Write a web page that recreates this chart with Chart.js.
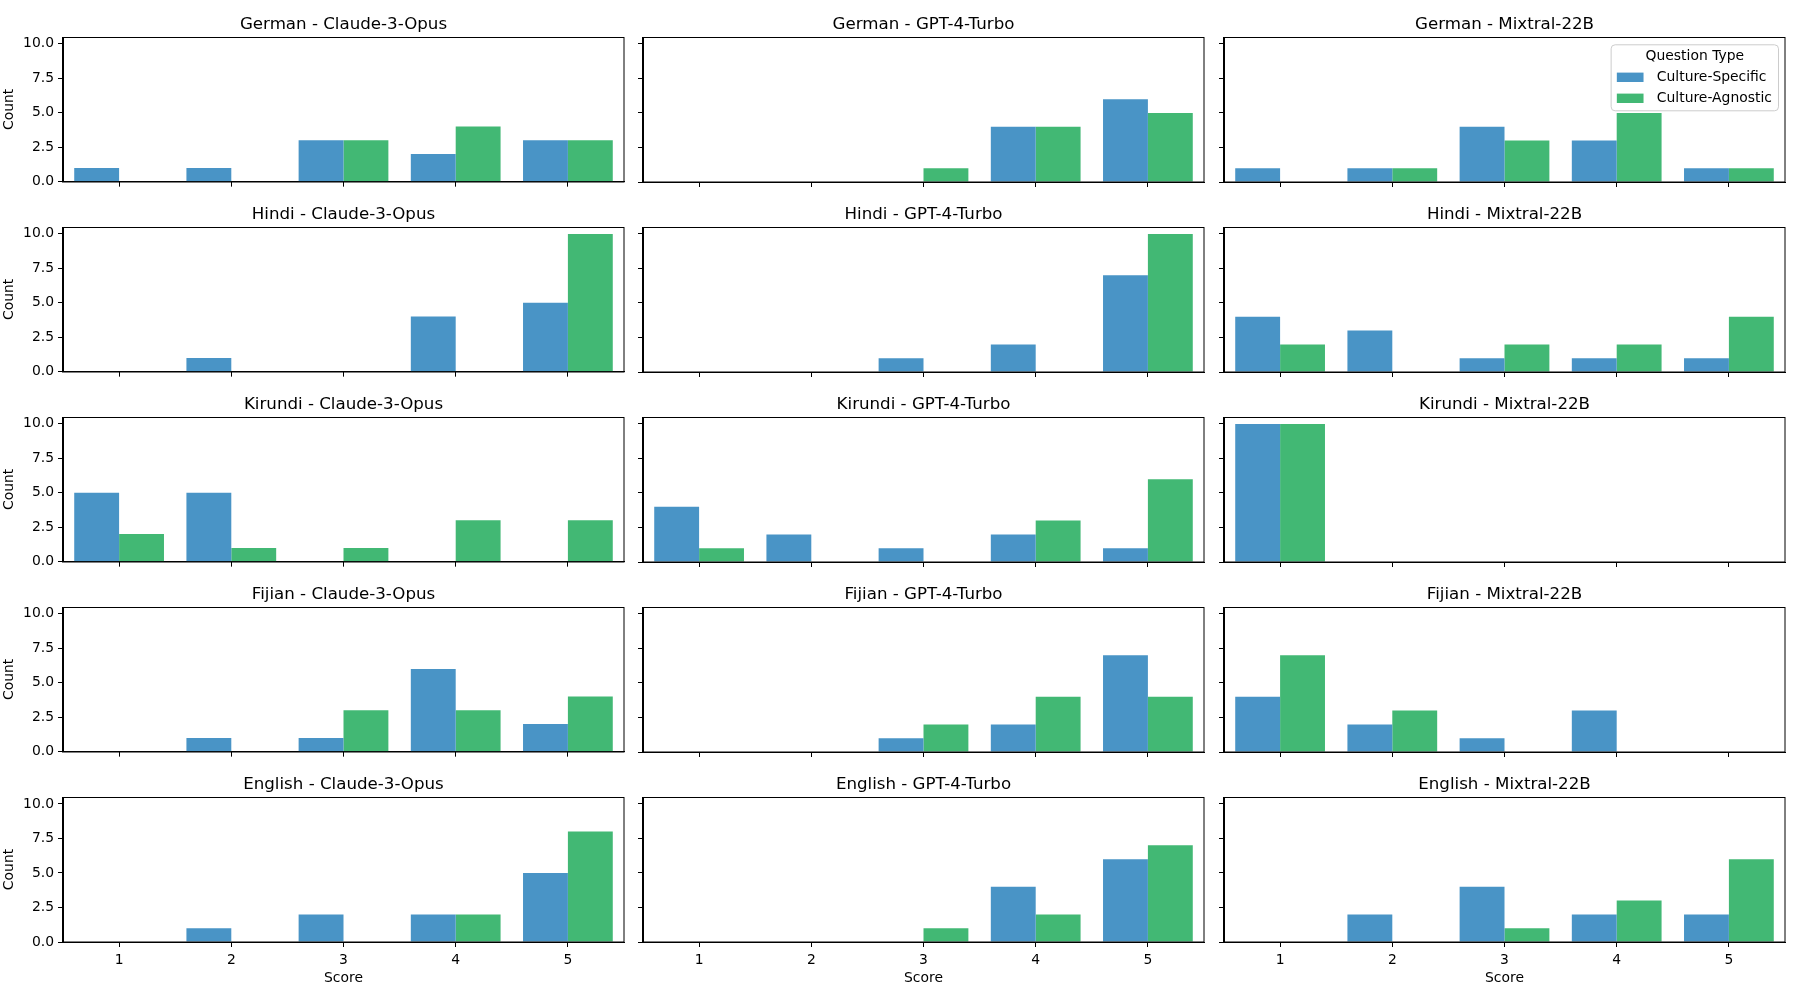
<!DOCTYPE html>
<html>
<head>
<meta charset="utf-8">
<title>Score distributions</title>
<script src="https://cdn.jsdelivr.net/npm/chart.js@4.4.1/dist/chart.umd.min.js"></script>
<style>
html, body { margin: 0; padding: 0; background: #ffffff; }
#wrap { position: relative; width: 1800px; height: 1000px; overflow: hidden; background: #ffffff; }
#wrap canvas { position: absolute; }
</style>
</head>
<body>
<div id="wrap"></div>
<script>
// ---------------- data ----------------
const scores = ['1', '2', '3', '4', '5'];
const languages = ['German', 'Hindi', 'Kirundi', 'Fijian', 'English'];
const models = ['Claude-3-Opus', 'GPT-4-Turbo', 'Mixtral-22B'];
const seriesNames = ['Culture-Specific', 'Culture-Agnostic'];
const legendTitle = 'Question Type';
const yTicks = [0, 2.5, 5, 7.5, 10];
const xAxisLabel = 'Score';
const yAxisLabel = 'Count';

const germanClaudeSpecific   = [1, 1, 3, 2, 3];
const germanClaudeAgnostic   = [0, 0, 3, 4, 3];
const germanGptSpecific      = [0, 0, 0, 4, 6];
const germanGptAgnostic      = [0, 0, 1, 4, 5];
const germanMixtralSpecific  = [1, 1, 4, 3, 1];
const germanMixtralAgnostic  = [0, 1, 3, 5, 1];

const hindiClaudeSpecific    = [0, 1, 0, 4, 5];
const hindiClaudeAgnostic    = [0, 0, 0, 0, 10];
const hindiGptSpecific       = [0, 0, 1, 2, 7];
const hindiGptAgnostic       = [0, 0, 0, 0, 10];
const hindiMixtralSpecific   = [4, 3, 1, 1, 1];
const hindiMixtralAgnostic   = [2, 0, 2, 2, 4];

const kirundiClaudeSpecific  = [5, 5, 0, 0, 0];
const kirundiClaudeAgnostic  = [2, 1, 1, 3, 3];
const kirundiGptSpecific     = [4, 2, 1, 2, 1];
const kirundiGptAgnostic     = [1, 0, 0, 3, 6];
const kirundiMixtralSpecific = [10, 0, 0, 0, 0];
const kirundiMixtralAgnostic = [10, 0, 0, 0, 0];

const fijianClaudeSpecific   = [0, 1, 1, 6, 2];
const fijianClaudeAgnostic   = [0, 0, 3, 3, 4];
const fijianGptSpecific      = [0, 0, 1, 2, 7];
const fijianGptAgnostic      = [0, 0, 2, 4, 4];
const fijianMixtralSpecific  = [4, 2, 1, 3, 0];
const fijianMixtralAgnostic  = [7, 3, 0, 0, 0];

const englishClaudeSpecific  = [0, 1, 2, 2, 5];
const englishClaudeAgnostic  = [0, 0, 0, 2, 8];
const englishGptSpecific     = [0, 0, 0, 4, 6];
const englishGptAgnostic     = [0, 0, 1, 2, 7];
const englishMixtralSpecific = [0, 2, 4, 2, 2];
const englishMixtralAgnostic = [0, 0, 1, 3, 6];

const panelData = [
  [[germanClaudeSpecific, germanClaudeAgnostic], [germanGptSpecific, germanGptAgnostic], [germanMixtralSpecific, germanMixtralAgnostic]],
  [[hindiClaudeSpecific, hindiClaudeAgnostic], [hindiGptSpecific, hindiGptAgnostic], [hindiMixtralSpecific, hindiMixtralAgnostic]],
  [[kirundiClaudeSpecific, kirundiClaudeAgnostic], [kirundiGptSpecific, kirundiGptAgnostic], [kirundiMixtralSpecific, kirundiMixtralAgnostic]],
  [[fijianClaudeSpecific, fijianClaudeAgnostic], [fijianGptSpecific, fijianGptAgnostic], [fijianMixtralSpecific, fijianMixtralAgnostic]],
  [[englishClaudeSpecific, englishClaudeAgnostic], [englishGptSpecific, englishGptAgnostic], [englishMixtralSpecific, englishMixtralAgnostic]]
];

// ---------------- style / layout ----------------
const COLORS = ['rgb(73,148,198)', 'rgb(66,184,116)'];
const FONT = "'DejaVu Sans', 'Liberation Sans', sans-serif";
Chart.defaults.font.family = FONT;
Chart.defaults.color = '#000';

const colLefts = [63, 643, 1224];
const rowTops = [37, 227, 417, 607, 797];
const AX_W = 561;
const AX_H = 145;
const TICK_FS = 13.9;
const TITLE_FS = 16.67;

const framePlugin = {
  id: 'frame',
  afterDatasetsDraw(chart) {
    const {ctx, chartArea: a} = chart;
    ctx.save();
    ctx.strokeStyle = '#000';
    ctx.lineWidth = 1;
    ctx.strokeRect(Math.round(a.left) - 0.5, Math.round(a.top) + 0.5,
                   Math.round(a.right - a.left) + 0.5, Math.round(a.bottom - a.top) - 0.5);
    ctx.restore();
  }
};

const innerLegendPlugin = {
  id: 'innerLegend',
  afterDraw(chart, args, opts) {
    if (!opts || !opts.show) return;
    const {ctx, chartArea: a} = chart;
    ctx.save();
    ctx.font = TICK_FS + 'px ' + FONT;
    let tw = 0;
    chart.data.datasets.forEach(d => { tw = Math.max(tw, ctx.measureText(d.label).width); });
    tw = Math.max(tw, ctx.measureText(legendTitle).width - 40);
    const w = 45.7 + tw + 6.6;
    const h = 66;
    const right = a.right - 6.5;
    const left = right - w;
    const top = a.top + 7.8;
    const r = 4;
    ctx.beginPath();
    ctx.moveTo(left + r, top);
    ctx.lineTo(right - r, top);
    ctx.arcTo(right, top, right, top + r, r);
    ctx.lineTo(right, top + h - r);
    ctx.arcTo(right, top + h, right - r, top + h, r);
    ctx.lineTo(left + r, top + h);
    ctx.arcTo(left, top + h, left, top + h - r, r);
    ctx.lineTo(left, top + r);
    ctx.arcTo(left, top, left + r, top, r);
    ctx.closePath();
    ctx.fillStyle = 'rgba(255,255,255,0.8)';
    ctx.fill();
    ctx.strokeStyle = '#cccccc';
    ctx.lineWidth = 1;
    ctx.stroke();
    ctx.fillStyle = '#000';
    ctx.textBaseline = 'middle';
    ctx.textAlign = 'center';
    ctx.fillText(legendTitle, left + w / 2, top + 12);
    ctx.textAlign = 'left';
    const rowsY = [top + 32.5, top + 53.5];
    chart.data.datasets.forEach((d, i) => {
      ctx.fillStyle = d.backgroundColor;
      ctx.fillRect(left + 5.7, rowsY[i] - 4.7, 26.7, 9.4);
      ctx.fillStyle = '#000';
      ctx.fillText(d.label, left + 45.7, rowsY[i]);
    });
    ctx.restore();
  }
};

const wrap = document.getElementById('wrap');

function makePanel(r, c) {
  const isLeft = c === 0;
  const isBottom = r === languages.length - 1;
  const L = isLeft ? 63 : 20;
  const R = 8;
  const T = 30;
  const B = isBottom ? 55 : 12;
  const w = L + AX_W + R;
  const h = T + AX_H + B;
  const canvas = document.createElement('canvas');
  canvas.width = w;
  canvas.height = h;
  canvas.style.left = (colLefts[c] - L) + 'px';
  canvas.style.top = (rowTops[r] - T) + 'px';
  canvas.style.width = w + 'px';
  canvas.style.height = h + 'px';
  wrap.appendChild(canvas);

  const [spec, agn] = panelData[r][c];
  const tickFont = {family: FONT, size: TICK_FS};

  new Chart(canvas, {
    type: 'bar',
    data: {
      labels: scores,
      datasets: [
        {label: seriesNames[0], data: spec, backgroundColor: COLORS[0], borderWidth: 0,
         categoryPercentage: 0.8, barPercentage: 1.0},
        {label: seriesNames[1], data: agn, backgroundColor: COLORS[1], borderWidth: 0,
         categoryPercentage: 0.8, barPercentage: 1.0}
      ]
    },
    options: {
      responsive: false,
      animation: false,
      devicePixelRatio: 1,
      layout: {padding: {left: 0, right: R, top: 0, bottom: 0}},
      plugins: {
        legend: {display: false},
        tooltip: {enabled: false},
        title: {
          display: true,
          fullSize: false,
          text: languages[r] + ' - ' + models[c],
          color: '#000',
          font: {family: FONT, size: TITLE_FS, weight: 'normal', lineHeight: 1.2},
          padding: {top: T - TITLE_FS * 1.2 - 2.6, bottom: 2.6}
        },
        innerLegend: {show: r === 0 && c === 2}
      },
      scales: {
        x: {
          type: 'category',
          offset: true,
          afterFit: s => { s.height = B; },
          ticks: {display: isBottom, font: tickFont, color: '#000', padding: 5.5, maxRotation: 0, autoSkip: false},
          grid: {display: true, offset: false, drawOnChartArea: false, drawTicks: true, tickLength: 5, color: '#000', lineWidth: 1},
          border: {display: true, color: '#000', width: 1},
          title: {display: isBottom, text: xAxisLabel, color: '#000', font: tickFont, padding: {top: 0, bottom: 10}}
        },
        y: {
          type: 'linear',
          min: 0,
          max: 10.5,
          afterBuildTicks: s => { s.ticks = yTicks.map(v => ({value: v})); },
          afterFit: s => { s.width = L; },
          ticks: {display: isLeft, font: tickFont, color: '#000', padding: 4,
                  callback: v => Number(v).toFixed(1)},
          grid: {display: true, drawOnChartArea: false, drawTicks: true, tickLength: 5, color: '#000', lineWidth: 1},
          border: {display: true, color: '#000', width: 1},
          title: {display: isLeft, text: yAxisLabel, color: '#000', font: tickFont, padding: {top: 0.6, bottom: 0}}
        }
      }
    },
    plugins: [framePlugin, innerLegendPlugin]
  });
}

for (let r = 0; r < languages.length; r++) {
  for (let c = 0; c < models.length; c++) {
    makePanel(r, c);
  }
}
</script>
</body>
</html>
